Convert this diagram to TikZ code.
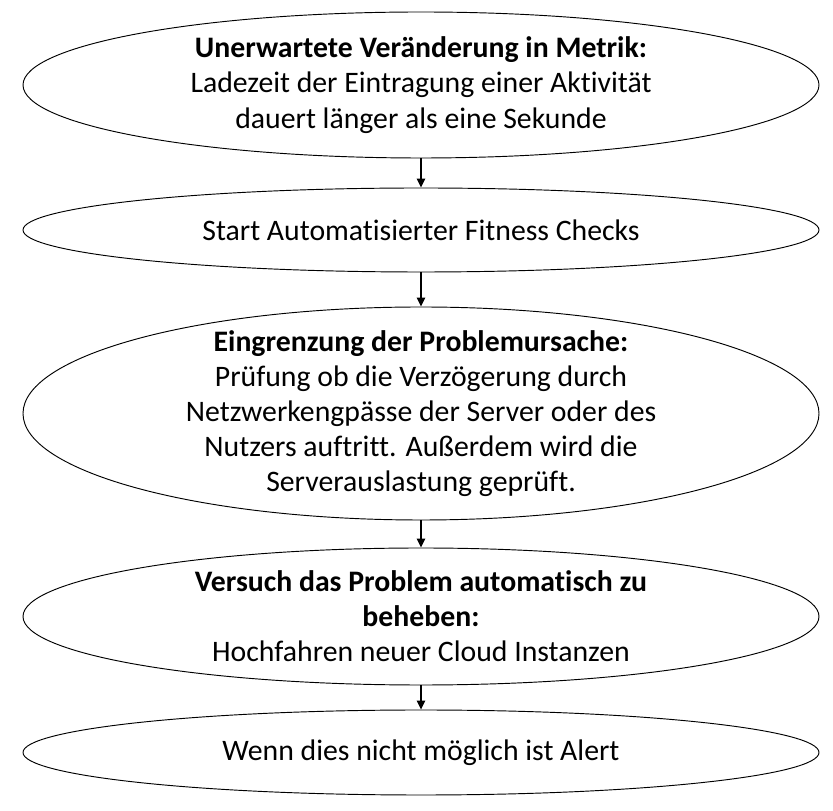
\documentclass[tikz,border=0pt]{standalone}
\usepackage{fontspec}
\setmainfont{Carlito}[Ligatures=NoCommon]
\usepackage{tikz}
\usetikzlibrary{shapes.geometric,arrows.meta,positioning}
\tikzset{
  flowell/.style={draw=black,ellipse,line width=0.8pt,minimum width=23.88cm,minimum height=#1,inner sep=0pt},
  flowtext/.style={align=center,font=\fontsize{25.4}{30}\selectfont,inner sep=0pt}
}

\begin{document}
\begin{tikzpicture}[
  arrow/.style={-{Triangle[width=0.26cm,length=0.27cm]},line width=0.9pt,black}
]
  \useasboundingbox (0,0) rectangle (24.99,24.33);
  \node[flowell=4.38cm] (e1) at (12.63,21.78) {};
  \node[flowell=2.52cm] (e2) at (12.63,17.43) {};
  \node[flowell=6.39cm] (e3) at (12.63,11.925) {};
  \node[flowell=4.11cm] (e4) at (12.63,5.835) {};
  \node[flowell=2.55cm] (e5) at (12.63,1.755) {};
  \node[flowtext] (t1) at (e1) {\textbf{Unerwartete Veränderung in Metrik:}\\Ladezeit der Eintragung einer Aktivität\\dauert länger als eine Sekunde};
  \node[flowtext] (t2) at (e2) {Start Automatisierter Fitness Checks};
  \node[flowtext] (t3) at (e3) {\textbf{Eingrenzung der Problemursache:}\\Prüfung ob die Verzögerung durch\\Netzwerkengpässe der Server oder des\\Nutzers auftritt. Außerdem wird die\\Serverauslastung geprüft.};
  \node[flowtext] (t4) at (e4) {\textbf{Versuch das Problem automatisch zu}\\\textbf{beheben:}\\Hochfahren neuer Cloud Instanzen};
  \node[flowtext] (t5) at (e5) {Wenn dies nicht möglich ist Alert};
  \draw[arrow] (e1) -- (e2);
  \draw[arrow] (e2) -- (e3);
  \draw[arrow] (e3) -- (e4);
  \draw[arrow] (e4) -- (e5);
\end{tikzpicture}
\end{document}
